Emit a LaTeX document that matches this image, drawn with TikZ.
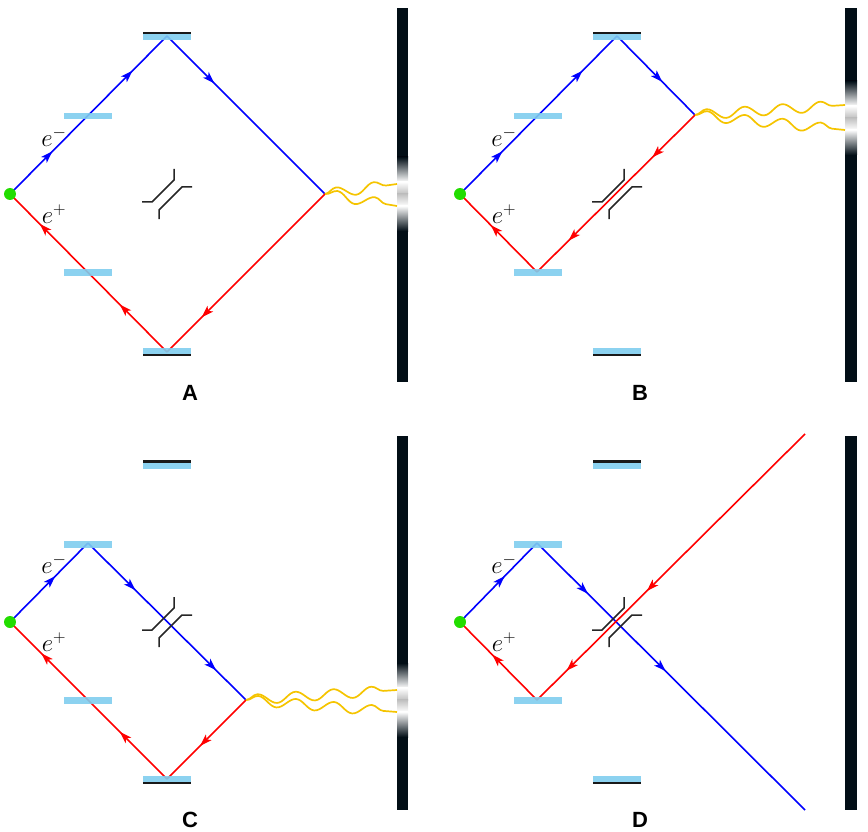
\documentclass[tikz,border=0pt]{standalone}
\usepackage{fontspec}
\newfontfamily\labelfont{Liberation Sans}
\usetikzlibrary{arrows.meta, decorations.pathmorphing, decorations.markings, calc}

\definecolor{mirrorblue}{HTML}{7FCDEE}
\definecolor{screendark}{HTML}{020E16}
\definecolor{photon}{HTML}{F5C400}
\definecolor{sourcegreen}{HTML}{22DD00}

\tikzset{
    beam/.style={line width=1.6pt},
    arr/.style={postaction={decorate}, decoration={markings,
        mark=at position #1 with {\arrow{Stealth[length=12pt,width=8pt,inset=3pt]}}}},
    arrs/.style 2 args={postaction={decorate}, decoration={markings,
        mark=at position #1 with {\arrow{Stealth[length=12pt,width=8pt,inset=3pt]}},
        mark=at position #2 with {\arrow{Stealth[length=12pt,width=8pt,inset=3pt]}}}},
    wave/.style={photon, line width=1.7pt, decorate,
        decoration={snake, amplitude=5pt, segment length=38pt}},
    plate/.style={line width=1.5pt, black!85},
    panel/.style={font=\labelfont\bfseries\fontsize{22}{22}\selectfont},
    charge/.style={font=\fontsize{26}{26}\selectfont}
}

% glow on the screen: x left, x right, centre
\newcommand{\glow}[3]{
    \shade[top color=screendark, bottom color=white] (#1,#3-37) rectangle (#2,#3-12);
    \shade[top color=white, bottom color=black!25] (#1,#3-12.2) rectangle (#2,#3);
    \shade[top color=black!25, bottom color=white] (#1,#3-0.2) rectangle (#2,#3+12);
    \shade[top color=white, bottom color=screendark] (#1,#3+11.8) rectangle (#2,#3+37);
}
% beam splitter
\newcommand{\splitter}[1]{
    \draw[plate] ($(#1)+(-25,8)$) -- ++(10,0) -- ++(22,-22) -- ++(0,-11);
    \draw[plate] ($(#1)+(25,-7)$) -- ++(-10,0) -- ++(-23,23) -- ++(0,9);
}

\begin{document}
\begin{tikzpicture}[x=1pt, y=-1pt]
    \useasboundingbox (0,0) rectangle (868,832);

    % screens
    \fill[screendark] (397,8) rectangle (408,382);
    \fill[screendark] (845,8) rectangle (857,382);
    \fill[screendark] (397,436) rectangle (408,810);
    \fill[screendark] (845,436) rectangle (857,810);
    \glow{397}{408}{194}
    \glow{845}{857}{118}
    \glow{397}{408}{700}

    % panel A
    \coordinate (sA) at (10,194);
    \coordinate (tA) at (167,36);
    \coordinate (rA) at (325,194);
    \coordinate (bA) at (167,352);
    \draw[beam, blue, arrs={0.27}{0.78}] (sA) -- (tA);
    \draw[beam, blue, arr=0.3] (tA) -- (rA);
    \draw[beam, red, arr=0.78] (rA) -- (bA);
    \draw[beam, red, arrs={0.3}{0.81}] (bA) -- (sA);
    \draw[wave] (rA) -- (397,184);
    \draw[wave] (rA) -- (397,206);
    \splitter{167,194}

    % panel B
    \coordinate (sB) at (460,194);
    \coordinate (tB) at (617,36);
    \coordinate (rB) at (695,115);
    \coordinate (bB) at (537,272);
    \draw[beam, blue, arrs={0.27}{0.78}] (sB) -- (tB);
    \draw[beam, blue, arr=0.58] (tB) -- (rB);
    \draw[beam, red, arrs={0.27}{0.8}] (rB) -- (bB);
    \draw[beam, red, arr=0.6] (bB) -- (sB);
    \draw[wave] (rB) -- (845,105);
    \draw[wave] (rB) -- (845,130);
    \splitter{617,194}

    % panel C
    \coordinate (sC) at (10,622);
    \coordinate (tC) at (88,543);
    \coordinate (rC) at (246,700);
    \coordinate (bC) at (167,779);
    \draw[beam, blue, arr=0.58] (sC) -- (tC);
    \draw[beam, blue, arrs={0.3}{0.81}] (tC) -- (rC);
    \draw[beam, red, arr=0.58] (rC) -- (bC);
    \draw[beam, red, arrs={0.3}{0.8}] (bC) -- (sC);
    \draw[wave] (rC) -- (397,690);
    \draw[wave] (rC) -- (397,712);
    \splitter{167,622}

    % panel D
    \coordinate (sD) at (460,622);
    \coordinate (tD) at (537,543);
    \coordinate (bD) at (537,700);
    \coordinate (outD) at (805,810);
    \coordinate (inD) at (805,434);
    \draw[beam, blue, arr=0.58] (sD) -- (tD);
    \draw[beam, blue, arrs={0.19}{0.48}] (tD) -- (outD);
    \draw[beam, red, arrs={0.59}{0.89}] (inD) -- (bD);
    \draw[beam, red, arr=0.58] (bD) -- (sD);
    \splitter{617,622}

    % mirrors
    \foreach \dx/\dy in {0/0, 450/0, 0/428, 450/428} {
        \fill[mirrorblue, opacity=0.9] (143+\dx,34+\dy) rectangle (191+\dx,40.5+\dy);
        \fill[black!90] (143+\dx,32+\dy) rectangle (191+\dx,34.5+\dy);
        \fill[mirrorblue, opacity=0.9] (64+\dx,113+\dy) rectangle (112+\dx,119.5+\dy);
        \fill[mirrorblue, opacity=0.9] (64+\dx,269+\dy) rectangle (112+\dx,275.5+\dy);
        \fill[mirrorblue, opacity=0.9] (143+\dx,347.5+\dy) rectangle (191+\dx,354+\dy);
        \fill[black!90] (143+\dx,353.5+\dy) rectangle (191+\dx,356+\dy);
    }

    % sources
    \foreach \s in {sA, sB, sC, sD}
        \fill[sourcegreen] (\s) circle (6pt);

    % charges
    \node[charge] (eA1) at (54,137) {$e^{\scriptstyle -}$};
    \node[charge] (eA2) at (54,214) {$e^{\scriptstyle +}$};
    \node[charge] (eB1) at (504,137) {$e^{\scriptstyle -}$};
    \node[charge] (eB2) at (504,214) {$e^{\scriptstyle +}$};
    \node[charge] (eC1) at (54,564) {$e^{\scriptstyle -}$};
    \node[charge] (eC2) at (54,642) {$e^{\scriptstyle +}$};
    \node[charge] (eD1) at (504,564) {$e^{\scriptstyle -}$};
    \node[charge] (eD2) at (504,642) {$e^{\scriptstyle +}$};

    % panel labels
    \node[panel] (labA) at (190,393) {A};
    \node[panel] (labB) at (640,393) {B};
    \node[panel] (labC) at (190,820) {C};
    \node[panel] (labD) at (640,820) {D};
\end{tikzpicture}
\end{document}
